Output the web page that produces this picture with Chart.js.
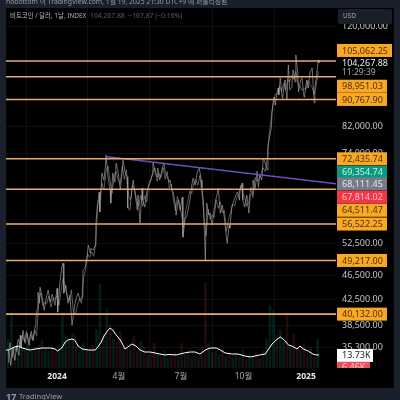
<!DOCTYPE html>
<html>
<head>
<meta charset="utf-8">
<style>
  html, body { margin: 0; padding: 0; background: #1a1f2c; overflow: hidden; }
  canvas { display: block; }
</style>
<script src="https://cdn.jsdelivr.net/npm/chart.js@4"></script>
</head>
<body>
<div style="width:400px;height:400px"><canvas id="myChart"></canvas></div>
<script>
// days are counted from 2024-01-01
const priceDays = [-72,-71,-68,-65,-62,-59,-56,-54,-53,-50,-47,-44,-41,-38,-35,-32,-31,-29,-28,-26,-25,-22,-19,-16,-13,-10,-7,-3,0,1,4,7,9,10,13,16,19,22,24,26,29,31,34,37,38,41,44,46,49,50,53,56,57,59,62,63,66,69,71,72,75,78,79,82,85,87,90,93,96,97,100,103,104,107,110,112,115,118,119,122,125,126,129,132,134,137,140,141,144,147,148,151,154,157,159,162,165,166,169,171,174,175,178,181,184,185,188,191,194,196,198,200,203,206,209,212,213,215,218,219,220,223,225,228,231,232,235,237,240,243,246,247,250,253,254,257,260,262,265,268,269,272,273,276,279,282,284,287,288,291,294,296,298,301,303,306,309,310,313,315,316,318,319,321,322,325,326,328,331,332,335,338,340,342,345,347,350,351,354,355,358,360,363,364,367,369,372,375,378,379,381,384,385];
const priceValues = [33415,34980,33040,35250,33670,35640,34320,37030,35380,37740,35920,37310,35640,37590,36330,38330,39510,41040,43620,41820,44450,42960,40730,42630,43950,42000,43290,41500,44280,40430,44970,47970,48710,43450,44800,41820,43120,38470,39970,41500,42960,43450,42310,42800,47430,47790,49820,52160,50600,51560,51180,51960,56280,60280,63820,59150,68610,66800,70200,73480,67580,64300,61190,68610,66290,71260,68610,64300,69390,72080,68870,67580,60050,59590,64300,66800,63100,59590,63100,56700,64790,61900,60280,63820,65020,66290,68090,71540,68870,67580,69920,66800,69390,71260,68870,67580,66290,66800,64300,63570,60740,58480,61900,59590,62620,53770,57370,58480,60740,62620,65540,67310,65540,68870,69920,66800,65020,61900,49260,56280,61190,58480,58930,56280,60050,61190,63100,64790,58930,60740,57810,56280,52550,56280,55650,60280,61900,62620,63820,61900,64300,66030,61900,60280,63100,58930,63100,63570,66800,64300,69120,65020,68090,66800,72640,71260,69390,76330,79280,81410,86540,89540,91600,88850,91250,94800,92300,98470,91250,92300,97730,90570,103490,94080,94800,101520,96990,107480,99980,93370,97730,98470,91600,92300,97730,94800,100750,102280,89540,94800,98470,105460,104267];

// the inside of the candle band, read between the extremes above
const bandDays = [-72,-69,-66,-63,-60,-57,-54,-51,-48,-45,-42,-39,-36,-33,-30,-27,-24,-21,-18,-15,-12,-9,-6,-3,0,3,6,9,12,15,18,21,24,27,30,33,36,39,42,45,48,51,54,57,60,63,66,69,72,75,78,81,84,87,90,93,96,99,102,105,108,111,114,117,120,123,126,129,132,135,138,141,144,147,150,153,156,159,162,165,168,171,174,177,180,183,186,189,192,195,198,201,204,207,210,213,216,219,222,225,228,231,234,237,240,243,246,249,252,255,258,261,264,267,270,273,276,279,282,285,288,291,294,297,300,303,306,309,312,315,318,321,324,327,330,333,336,339,342,345,348,351,354,357,360,363,366,369,372,375,378,381,384];
const bandValues = [34500,36000,34000,35500,34800,36500,35600,37000,36200,37600,36000,37200,36300,37800,37000,42000,43500,41500,42000,41800,43000,41200,42600,42500,43000,41500,44000,46000,44500,43000,42200,44000,40500,40000,41500,42500,41800,46000,47500,50500,49800,50800,50000,53000,61000,62500,66000,64500,69000,70500,66500,63500,68000,69000,66500,66000,70500,67000,69500,63000,62000,65500,64500,61800,60500,63000,60500,63000,61500,66000,67000,69000,70000,66500,68500,67500,70000,67000,69000,64800,65800,62000,59500,62800,61200,58500,55800,59500,61500,64000,63500,66000,67000,65500,68000,63500,58000,54000,59800,57500,58500,58000,62000,60000,61500,59000,59500,55000,57500,59000,61000,60500,62500,63000,65500,63500,62500,60500,61500,65000,62500,67500,66500,67000,68500,70000,69000,72500,80000,85000,90500,92500,93000,95500,93500,96500,94000,98000,97000,99500,98000,101000,96000,95500,94000,94500,94500,97500,96000,95000,92500,96000,101000];

const maDays = [-75,-71,-63,-57,-51,-46,-40,-31,-22,-10,-3,1,7,12,16,22,26,31,37,46,56,60,65,69,74,78,82,87,93,100,104,110,116,122,129,137,144,151,159,166,175,187,196,203,210,218,225,234,240,247,257,266,276,284,291,298,306,310,316,322,328,334,340,345,353,357,362,369,376,381,385];
const maValues = [18.9,18.9,22,23,21,20,18.9,20,21,21,20,17.9,21,27.3,29.4,30.5,29.4,23.1,20,18.9,18.9,22,27.3,33.6,38.9,42,39.9,34.7,29.4,20,22,25.2,23.1,18.9,16.8,16.8,15.8,14.7,13.7,14.2,13.7,15.8,16.8,16.8,14.7,18.9,21,21,18.9,15.8,14.7,14.7,12.6,11.6,12.6,13.7,14.7,18.9,25.2,29.4,32.6,29.4,24.2,23.1,20,23.1,20,17.9,14.7,13.7,13.73];

const volDays = [-72,-67,-62,-57,-52,-47,-42,-37,-32,-27,-22,-17,-12,-7,-2,3,8,13,18,23,28,33,38,43,48,53,58,63,68,73,78,83,88,93,98,103,108,113,118,123,128,133,138,143,148,153,158,163,168,173,178,183,188,193,198,203,208,213,218,223,228,233,238,243,248,253,258,263,268,273,278,283,288,293,298,303,308,313,318,323,328,333,338,343,348,353,358,363,368,373,378,383];
const volValues = [30,58,22,28,24,20,26,18,22,24,30,20,18,24,16,22,58,34,28,36,24,18,26,20,18,24,40,88,36,62,45,30,26,38,22,24,20,34,18,28,22,14,16,26,14,12,18,11,13,16,12,26,14,18,12,14,10,22,90,26,16,18,14,20,12,16,10,14,12,18,9,14,12,16,10,18,30,66,60,34,40,28,58,24,36,22,18,26,14,20,12,30];
const volUp = [1,1,0,1,1,0,1,1,0,1,0,1,1,0,0,1,1,1,0,1,0,1,1,0,1,0,1,1,0,1,0,1,0,0,1,0,1,0,0,1,0,1,0,0,1,0,1,1,0,0,1,0,1,0,1,0,1,0,0,1,1,0,1,0,1,0,1,1,0,1,0,1,1,0,1,0,1,1,1,0,1,1,0,1,0,0,1,0,0,1,0,1];

const levelValues = [105062.25, 98951.03, 90767.9, 72435.74, 64511.47, 56522.25, 49217, 40132];
const trendDays = [71, 410];
const trendValues = [73100, 65900];

const yTickValues = [120000, 82000, 74000, 52500, 46500, 42500, 38500, 35300];
const xTickDays = [0, 91, 182, 274, 366];
const xTickLabels = ['2024', '4월', '7월', '10월', '2025'];

const xMin = -75;
const xMax = 410;
const fontName = '"Noto Sans", "Noto Sans CJK KR", sans-serif';

function pairs(xs, ys) {
  return xs.map((x, i) => ({ x: x, y: ys[i] }));
}

function money(v) {
  return v.toLocaleString('en-US', { minimumFractionDigits: 2, maximumFractionDigits: 2 });
}

// tags on the price axis: value, colours and how far the tag was pushed off its level
const priceTags = [
  { value: 105062.25, bg: '#f9a825', fg: '#4d3200', shift: -10.5, width: 55 },
  { value: 98951.03, bg: '#f9a825', fg: '#4d3200', shift: 9.5, width: 50 },
  { value: 90767.9, bg: '#f9a825', fg: '#4d3200', shift: 0, width: 50 },
  { value: 72435.74, bg: '#f9a825', fg: '#4d3200', shift: 0, width: 50 },
  { value: 69354.74, bg: '#089981', fg: '#c9f2e4', shift: 2, width: 50 },
  { value: 68111.45, bg: '#787b86', fg: '#e4e5ea', shift: 9, width: 50 },
  { value: 67814.02, bg: '#f23645', fg: '#ffc4c8', shift: 21, width: 50 },
  { value: 64511.47, bg: '#f9a825', fg: '#4d3200', shift: 21, width: 50 },
  { value: 56522.25, bg: '#f9a825', fg: '#4d3200', shift: 0, width: 50 },
  { value: 49217, bg: '#f9a825', fg: '#4d3200', shift: 0, width: 50 },
  { value: 40132, bg: '#f9a825', fg: '#4d3200', shift: 0, width: 50 },
];

const framePlugin = {
  id: 'frame',
  beforeDraw(chart) {
    const ctx = chart.ctx;
    ctx.save();
    ctx.fillStyle = '#1a1f2c';
    ctx.fillRect(0, 0, 400, 400);
    ctx.fillStyle = '#000000';
    ctx.fillRect(6, 8, 388, 380);
    ctx.restore();
  },
  afterDraw(chart) {
    const ctx = chart.ctx;
    const y = chart.scales.y;
    const y2 = chart.scales.y2;
    const left = chart.chartArea.right;
    ctx.save();
    ctx.textBaseline = 'middle';

    // published-by line, cut by the top of the picture
    ctx.font = '6.8px ' + fontName;
    ctx.fillStyle = '#9a9da6';
    ctx.fillText('nobottom 이 TradingView.com, 1월 19, 2025 21:30 UTC+9 에 퍼블리싱됨', 6, 2);

    ctx.font = '6.4px ' + fontName;
    ctx.fillStyle = '#b4b4b8';
    ctx.fillText('비트코인 / 달러, 1날, INDEX', 10, 16);
    ctx.font = '6.8px ' + fontName;
    ctx.fillStyle = '#5e5e62';
    ctx.fillText('104,267.88  −167.87 (−0.16%)', 90, 16);

    ctx.fillStyle = '#1a1e28';
    ctx.beginPath();
    ctx.roundRect(338, 9, 54, 15, 2);
    ctx.fill();
    ctx.font = '6.5px ' + fontName;
    ctx.fillStyle = '#a8a8ae';
    ctx.fillText('USD', 343, 16.5);

    ctx.font = '9px ' + fontName;
    priceTags.forEach((t) => {
      const py = y.getPixelForValue(t.value) + t.shift;
      ctx.fillStyle = t.bg;
      ctx.fillRect(left + 1, py - 6.5, t.width, 13);
      ctx.fillStyle = t.fg;
      ctx.fillText(money(t.value), left + 6, py + 0.5);
    });

    ctx.fillStyle = '#e8e8e8';
    ctx.fillText(money(104267.88), left + 6, y.getPixelForValue(104267.88));
    ctx.fillStyle = '#a8a8a8';
    ctx.font = '8.5px ' + fontName;
    ctx.fillText('11:29:39', left + 6, y.getPixelForValue(104267.88) + 10);

    // volume tags, the lower one is cut off at the pane edge
    ctx.font = '9px ' + fontName;
    const maY = y2.getPixelForValue(13.73);
    ctx.save();
    ctx.beginPath();
    ctx.rect(left, 340, 60, 28);
    ctx.clip();
    ctx.fillStyle = '#ffffff';
    ctx.fillRect(left + 1, maY - 6, 36, 13);
    ctx.fillStyle = '#1c1c1c';
    ctx.fillText('13.73K', left + 6, maY + 0.5);
    ctx.fillStyle = '#e8505a';
    ctx.fillRect(left + 1, maY + 7, 33, 13);
    ctx.fillStyle = '#ffc4c8';
    ctx.fillText('6.46K', left + 6, maY + 13);
    ctx.restore();

    // footer
    ctx.fillStyle = '#9a9da6';
    ctx.font = 'bold 9px ' + fontName;
    ctx.fillText('17', 6, 397);
    ctx.font = '7.5px ' + fontName;
    ctx.fillText('TradingView', 19, 397);
    ctx.restore();
  },
};

const levelSets = levelValues.map((v) => ({
  type: 'line',
  data: pairs([xMin, xMax], [v, v]),
  borderColor: '#e8ae68',
  borderWidth: 1.6,
  pointRadius: 0,
  yAxisID: 'y',
  order: 2,
}));

const chartConfig = {
  data: {
    datasets: [
      {
        type: 'bar',
        data: pairs(volDays, volValues),
        backgroundColor: volUp.map((u) => (u ? 'rgba(18,96,80,0.3)' : 'rgba(112,38,44,0.3)')),
        barThickness: 2,
        yAxisID: 'y2',
        order: 5,
      },
      {
        type: 'line',
        data: pairs(bandDays, bandValues),
        borderColor: 'rgba(150,150,150,0.65)',
        borderWidth: 0.9,
        pointRadius: 0,
        yAxisID: 'y',
        order: 4,
      },
      {
        type: 'line',
        data: pairs(priceDays, priceValues),
        borderColor: 'rgba(170,170,170,0.7)',
        borderWidth: 0.9,
        pointRadius: 0,
        yAxisID: 'y',
        order: 3,
      },
      ...levelSets,
      {
        type: 'line',
        data: pairs(trendDays, trendValues),
        borderColor: '#6a4fc4',
        borderWidth: 1.5,
        pointRadius: 0,
        yAxisID: 'y',
        order: 2,
      },
      {
        type: 'line',
        data: pairs(maDays, maValues),
        borderColor: '#ffffff',
        borderWidth: 1,
        pointRadius: 0,
        yAxisID: 'y2',
        order: 1,
      },
    ],
  },
  options: {
    responsive: true,
    maintainAspectRatio: false,
    animation: false,
    devicePixelRatio: 1,
    layout: { padding: { left: 6, top: 8, right: 6, bottom: 12 } },
    plugins: { legend: { display: false }, tooltip: { enabled: false } },
    scales: {
      x: {
        type: 'linear',
        offset: false,
        min: xMin,
        max: xMax,
        afterBuildTicks: (axis) => {
          axis.ticks = xTickDays.map((d) => ({ value: d }));
        },
        afterFit: (axis) => {
          axis.height = 20;
          axis.paddingLeft = 0;
          axis.paddingRight = 0;
        },
        grid: { color: '#101010', drawTicks: false },
        border: { display: false },
        ticks: {
          autoSkip: false,
          maxRotation: 0,
          padding: 3,
          color: (c) => (c.index === 0 || c.index === 4 ? '#e8e8e8' : '#a8a8a8'),
          font: (c) => ({
            family: fontName,
            size: 8.5,
            weight: c.index === 0 || c.index === 4 ? 'bold' : 'normal',
          }),
          callback: (value) => xTickLabels[xTickDays.indexOf(value)],
        },
      },
      y: {
        type: 'logarithmic',
        position: 'right',
        bounds: 'data',
        min: 32700,
        max: 128500,
        afterBuildTicks: (axis) => {
          axis.ticks = yTickValues.map((v) => ({ value: v }));
        },
        afterFit: (axis) => {
          axis.width = 58;
          axis.paddingTop = 0;
          axis.paddingBottom = 0;
        },
        grid: { color: '#101010', drawTicks: false },
        border: { display: false },
        ticks: {
          autoSkip: false,
          padding: 6,
          crossAlign: 'near',
          color: '#c4c4c4',
          font: { family: fontName, size: 9 },
          callback: (value) => money(value),
        },
      },
      y2: {
        type: 'linear',
        display: false,
        position: 'right',
        min: 0,
        max: 378,
      },
    },
  },
  plugins: [framePlugin],
};

new Chart(document.getElementById('myChart'), chartConfig);
</script>
</body>
</html>
